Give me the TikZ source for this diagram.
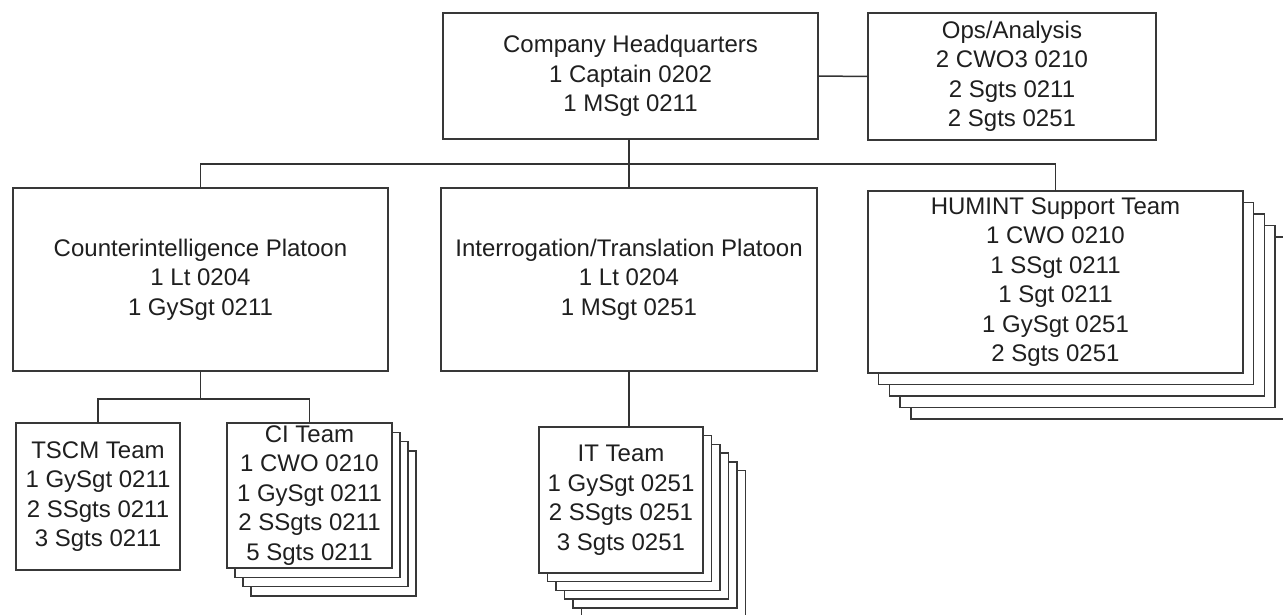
\documentclass[tikz,border=0pt]{standalone}
\usepackage{fontspec}
\setmainfont{Liberation Sans}
\usetikzlibrary{backgrounds}
\tikzset{
  boxline/.style={draw=black!78, line width=1.5pt},
  unit/.style={boxline, fill=white, align=center, inner sep=0pt, outer sep=0pt,
    text=black!88, font={\fontsize{24}{29.5}\selectfont}},
  link/.style={draw=black!80, line width=1.5pt},
}
\begin{document}
\begin{tikzpicture}[x=1pt,y=-1pt]
\clip (0,0) rectangle (1283,614);

% top row
\node[unit, minimum width=375, minimum height=126] (hq) at (630.5,76)
  {Company Headquarters\\1 Captain 0202\\1 MSgt 0211};
\node[unit, minimum width=288, minimum height=127] (ops) at (1012,76.5)
  {Ops/Analysis\\2 CWO3 0210\\2 Sgts 0211\\2 Sgts 0251};

% platoons
\node[unit, minimum width=375, minimum height=183] (cip) at (200.5,279.5)
  {Counterintelligence Platoon\\1 Lt 0204\\1 GySgt 0211};
\node[unit, minimum width=376, minimum height=183] (itp) at (629,279.5)
  {Interrogation/Translation Platoon\\1 Lt 0204\\1 MSgt 0251};
\node[unit, minimum width=375, minimum height=182] (hum) at (1055.5,282)
  {HUMINT Support Team\\1 CWO 0210\\1 SSgt 0211\\1 Sgt 0211\\1 GySgt 0251\\2 Sgts 0251};

% teams
\node[unit, minimum width=164, minimum height=147] (tscm) at (98,496.5)
  {TSCM Team\\1 GySgt 0211\\2 SSgts 0211\\3 Sgts 0211};
\node[unit, minimum width=165, minimum height=145] (cit) at (309.5,495.5)
  {CI Team\\1 CWO 0210\\1 GySgt 0211\\2 SSgts 0211\\5 Sgts 0211};
\node[unit, minimum width=164, minimum height=146] (itt) at (621,500)
  {IT Team\\1 GySgt 0251\\2 SSgts 0251\\3 Sgts 0251};

% white page and stacked copies behind
\begin{pgfonlayer}{background}
  \fill[white] (0,0) rectangle (1283,614);
  \foreach \k in {4,3,2,1}
    \draw[boxline, fill=white] ([shift={(\k*10.7,\k*11.5)}]hum.north west)
      rectangle ([shift={(\k*10.7,\k*11.5)}]hum.south east);
  \foreach \k in {3,2,1}
    \draw[boxline, fill=white] ([shift={(\k*8,\k*9.3)}]cit.north west)
      rectangle ([shift={(\k*8,\k*9.3)}]cit.south east);
  \foreach \k in {5,4,3,2,1}
    \draw[boxline, fill=white] ([shift={(\k*8.5,\k*8.7)}]itt.north west)
      rectangle ([shift={(\k*8.5,\k*8.7)}]itt.south east);
\end{pgfonlayer}

% connectors
\coordinate (bus) at (0,164);
\coordinate (sub) at (0,399);
\draw[link] (hq.east) -- (ops.west);
\draw[link] (hq.south -| itp.north) -- (itp.north);
\draw[link] (cip.north) -- (cip.north |- bus) -- (hum.north |- bus) -- (hum.north);
\draw[link] (cip.south) -- (cip.south |- sub);
\draw[link] (tscm.north) -- (tscm.north |- sub) -- (cit.north |- sub) -- (cit.north);
\draw[link] (itp.south) -- (itt.north -| itp.south);
\end{tikzpicture}
\end{document}
